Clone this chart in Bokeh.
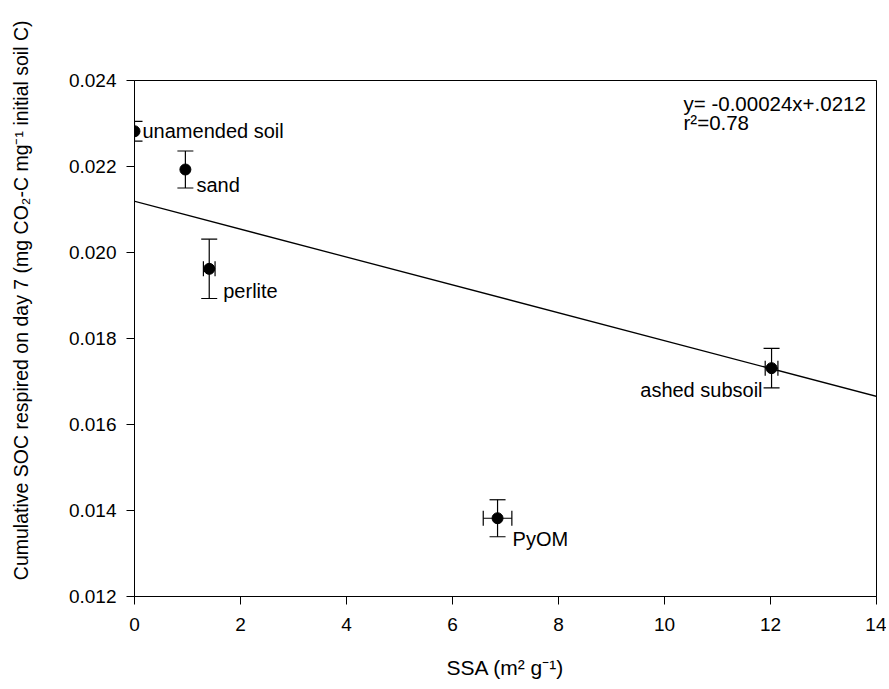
from bokeh.plotting import figure
from bokeh.models import (Range1d, FixedTicker, NumeralTickFormatter, Whisker,
                          TeeHead, ColumnDataSource, Label, Slope, Title)
from bokeh.embed import file_html
from bokeh.resources import INLINE

# ---- data ----
names = ["unamended soil", "sand", "perlite", "ashed subsoil", "PyOM"]
ssa = [0.0, 0.96, 1.41, 12.02, 6.85]
ssa_err = [0.0, 0.0, 0.11, 0.12, 0.27]
soc = [0.02282, 0.02193, 0.01962, 0.01731, 0.01382]
soc_err = [0.00023, 0.00043, 0.00069, 0.00046, 0.00043]
fit_intercept = 0.02119
fit_slope = -0.000324
eq_text = "y= -0.00024x+.0212"
r2_text = "r\u00b2=0.78"
x_ticks = [0, 2, 4, 6, 8, 10, 12, 14]
y_ticks = [0.012, 0.014, 0.016, 0.018, 0.020, 0.022, 0.024]
y_title = "Cumulative SOC respired on day 7 (mg CO\u2082-C mg\u207b\u00b9 initial soil C)"
x_title = "SSA (m\u00b2 g\u207b\u00b9)"

FONT = "Liberation Sans"

p = figure(width=886, height=681, output_backend="svg", toolbar_location=None,
           x_range=Range1d(0, 14), y_range=Range1d(0.012, 0.024),
           min_border_left=134, min_border_right=10, min_border_top=80,
           min_border_bottom=81)
p.grid.visible = False
p.outline_line_color = "black"
p.outline_line_width = 1
p.background_fill_color = "white"
p.border_fill_color = "white"

for ax in (p.xaxis[0], p.yaxis[0]):
    ax.axis_line_color = "black"
    ax.major_tick_line_color = "black"
    ax.minor_tick_line_color = None
    ax.major_tick_out = 8
    ax.major_tick_in = 0
    ax.major_label_text_font = FONT
    ax.major_label_text_font_size = "19px"
    ax.major_label_text_color = "black"
    ax.axis_label_text_font = FONT
    ax.axis_label_text_font_style = "normal"
    ax.axis_label_text_color = "black"

p.xaxis.ticker = FixedTicker(ticks=x_ticks)
p.yaxis.ticker = FixedTicker(ticks=y_ticks)
p.yaxis.formatter = NumeralTickFormatter(format="0.000")
p.xaxis.major_label_standoff = 13
p.yaxis.major_label_standoff = 10
p.xaxis.axis_label = x_title
p.xaxis.axis_label_text_font_size = "21px"
p.xaxis.axis_label_standoff = 22

# spacer between the y axis and its title
p.add_layout(Title(text=" ", text_font_size="10px", standoff=19), "left")
# y axis title as a left-side title, anchored near the top like the reference
p.add_layout(Title(text=y_title, align="right", offset=-60,
                   text_font=FONT, text_font_size="19.5px",
                   text_font_style="normal", text_color="black",
                   standoff=4), "left")

# regression line
p.add_layout(Slope(gradient=fit_slope, y_intercept=fit_intercept,
                   line_color="black", line_width=1.3))

src = ColumnDataSource(dict(x=ssa, y=soc,
                            yl=[s - e for s, e in zip(soc, soc_err)],
                            yu=[s + e for s, e in zip(soc, soc_err)]))

vw = Whisker(source=src, base="x", lower="yl", upper="yu", dimension="height",
             line_color="black", line_width=1.2,
             upper_head=TeeHead(size=16, line_color="black", line_width=1.2),
             lower_head=TeeHead(size=16, line_color="black", line_width=1.2))
p.add_layout(vw)

hsrc = ColumnDataSource(dict(y=[s for s, e in zip(soc, ssa_err) if e > 0],
                             xl=[x - e for x, e in zip(ssa, ssa_err) if e > 0],
                             xu=[x + e for x, e in zip(ssa, ssa_err) if e > 0]))
hw = Whisker(source=hsrc, base="y", lower="xl", upper="xu", dimension="width",
             line_color="black", line_width=1.2,
             upper_head=TeeHead(size=15, line_color="black", line_width=1.2),
             lower_head=TeeHead(size=15, line_color="black", line_width=1.2))
p.add_layout(hw)

p.scatter("x", "y", source=src, size=11, color="black")

# point labels
offsets = [(8, 0, "left"), (11, -15, "left"), (14, -22, "left"),
           (-9, -22, "right"), (15, -21, "left")]
for n, xv, yv, (dx, dy, al) in zip(names, ssa, soc, offsets):
    p.add_layout(Label(x=xv, y=yv, text=n, x_offset=dx, y_offset=dy,
                       text_align=al, text_baseline="middle",
                       text_font=FONT, text_font_size="20px",
                       text_color="black"))

# equation text
p.add_layout(Label(x=549, y=493, x_units="screen", y_units="screen",
                   text=eq_text, text_align="left", text_baseline="middle",
                   text_font=FONT, text_font_size="20.5px", text_color="black"))
p.add_layout(Label(x=549, y=474, x_units="screen", y_units="screen",
                   text=r2_text, text_align="left", text_baseline="middle",
                   text_font=FONT, text_font_size="20.5px", text_color="black"))

open("out.html", "w").write(file_html(p, INLINE))
